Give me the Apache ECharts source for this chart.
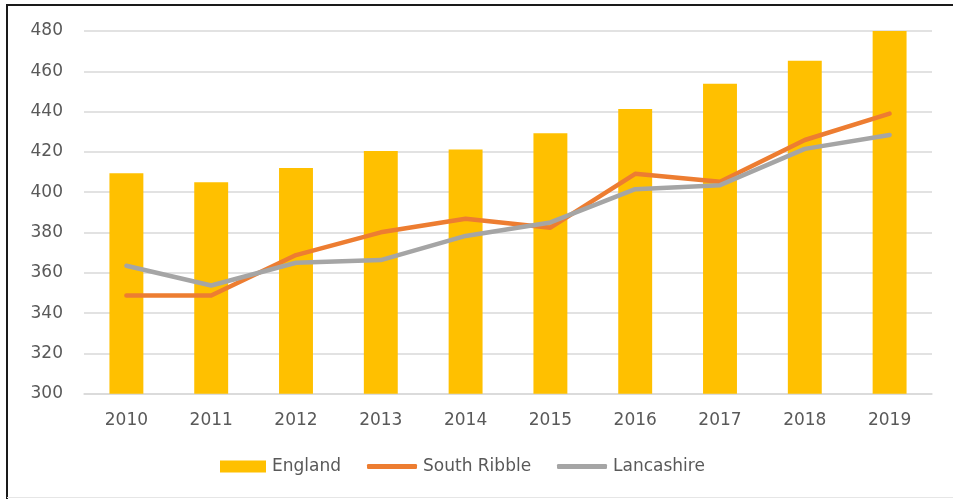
<!DOCTYPE html>
<html>
<head>
<meta charset="utf-8">
<title>England, South Ribble and Lancashire 2010–2019</title>
<script src="https://cdn.jsdelivr.net/npm/echarts@6/dist/echarts.min.js"></script>
<style>
  html, body { margin: 0; padding: 0; background: #ffffff; }
  #chart { width: 953px; height: 499px; }
</style>
</head>
<body>
<div id="chart"></div>
<script>
// Years along the x axis
const years = ['2010', '2011', '2012', '2013', '2014', '2015', '2016', '2017', '2018', '2019'];

// Series values
const england = [409.4, 404.9, 412, 420.5, 421.2, 429.2, 441.3, 453.8, 465.2, 480];
const southRibble = [348.7, 348.7, 368.8, 380.1, 386.8, 382.4, 409.1, 405.2, 425.9, 439];
const lancashire = [363.5, 353.7, 365, 366.3, 378.3, 385, 401.5, 403.5, 421.5, 428.4];

// Value axis range and step
const yMin = 300;
const yMax = 480;
const yStep = 20;

const labelColor = '#595959';
const fontFamily = 'DejaVu Sans';

const chart = echarts.init(document.getElementById('chart'), null, { renderer: 'canvas' });

function legendFor(name, left, w, h, icon) {
  return {
    data: [{ name: name, icon: icon }],
    left: left,
    top: 458,
    orient: 'horizontal',
    itemWidth: w,
    itemHeight: h,
    itemGap: 0,
    padding: 0,
    selectedMode: false,
    textStyle: { color: labelColor, fontFamily: fontFamily, fontSize: 17, padding: [0, 0, 0, 1] }
  };
}

chart.setOption({
  animation: false,
  backgroundColor: '#ffffff',
  grid: { left: 84, right: 21, top: 31, bottom: 105.3, containLabel: false },
  legend: [
    legendFor('England', 220, 46, 12, 'rect'),
    legendFor('South Ribble', 367, 50, 5, 'roundRect'),
    legendFor('Lancashire', 557, 50, 5, 'roundRect')
  ],
  xAxis: {
    type: 'category',
    data: years,
    boundaryGap: true,
    axisLine: { show: true, lineStyle: { color: '#D9D9D9', width: 1.5 } },
    axisTick: { show: false },
    axisLabel: { color: labelColor, fontFamily: fontFamily, fontSize: 17, margin: 18 }
  },
  yAxis: {
    type: 'value',
    min: yMin,
    max: yMax,
    interval: yStep,
    axisLine: { show: false },
    axisTick: { show: false },
    axisLabel: { color: labelColor, fontFamily: fontFamily, fontSize: 17, margin: 21 },
    splitLine: { show: true, lineStyle: { color: '#D9D9D9', width: 1.5 } }
  },
  series: [
    {
      name: 'England',
      type: 'bar',
      data: england,
      barWidth: '40%',
      itemStyle: { color: '#FFC000' },
      z: 2
    },
    {
      name: 'South Ribble',
      type: 'line',
      data: southRibble,
      symbol: 'none',
      itemStyle: { color: '#ED7D31' },
      lineStyle: { color: '#ED7D31', width: 4.5, cap: 'round', join: 'round' },
      z: 3
    },
    {
      name: 'Lancashire',
      type: 'line',
      data: lancashire,
      symbol: 'none',
      itemStyle: { color: '#A5A5A5' },
      lineStyle: { color: '#A5A5A5', width: 4.5, cap: 'round', join: 'round' },
      z: 4
    }
  ],
  graphic: [
    // frame: dark top and left edges, light bottom edge
    { type: 'line', shape: { x1: 6, y1: 5, x2: 953, y2: 5 }, style: { stroke: '#1a1a1a', lineWidth: 2 } },
    { type: 'line', shape: { x1: 7, y1: 4, x2: 7, y2: 499 }, style: { stroke: '#1a1a1a', lineWidth: 2 } },
    { type: 'line', shape: { x1: 7, y1: 497.5, x2: 953, y2: 497.5 }, style: { stroke: '#E6E6E6', lineWidth: 1 } }
  ]
});
</script>
</body>
</html>
